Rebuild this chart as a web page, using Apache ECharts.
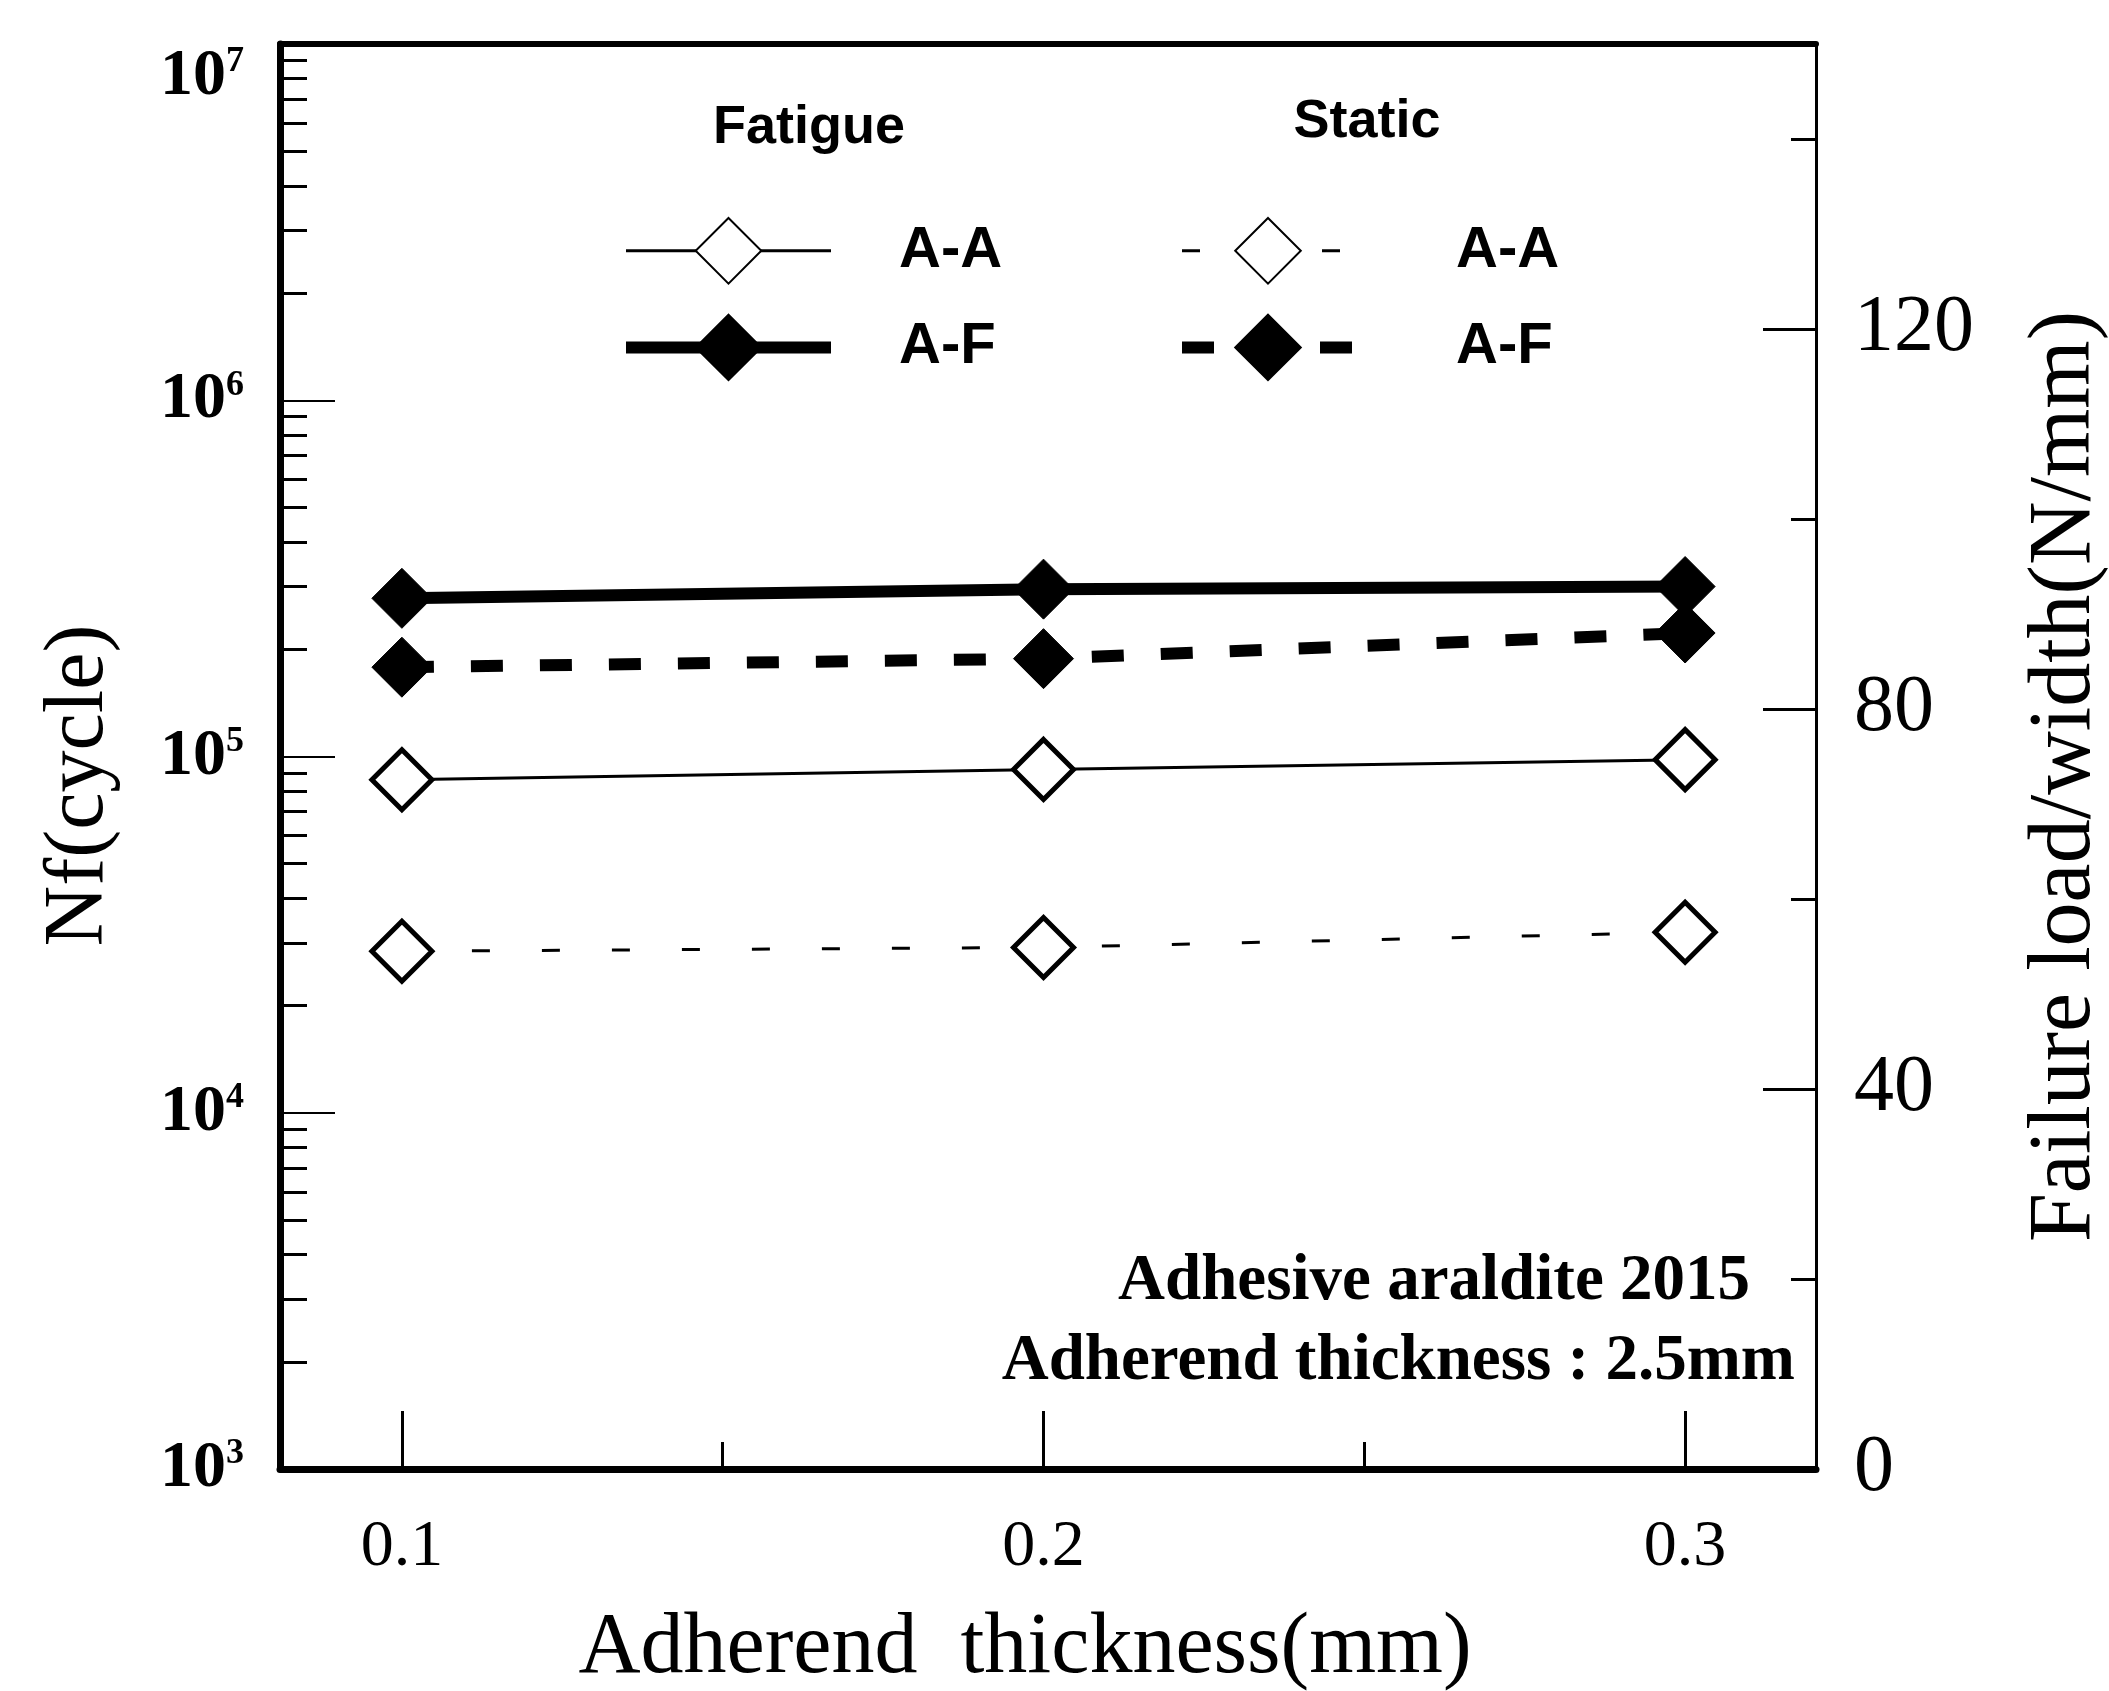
<!DOCTYPE html>
<html><head><meta charset="utf-8">
<script src="https://cdn.jsdelivr.net/npm/echarts@6/dist/echarts.min.js"></script>
<style>html,body{margin:0;padding:0;background:#fff}#c{width:2109px;height:1691px}</style>
</head><body><div id="c"></div><script>
// ---- data ----
const thickness = [0.1, 0.2, 0.3];
const fatigueAA = [8.6e4, 9.2e4, 9.8e4];
const fatigueAF = [2.78e5, 2.95e5, 3.0e5];
const staticAA = [54.5, 54.9, 56.5];
const staticAF = [84.4, 85.3, 88.0];
const xMajorTicks = [0.1, 0.2, 0.3];
const xMinorTicks = [0.15, 0.25];
const rightMajorTicks = [0, 40, 80, 120];
const rightMinorTicks = [20, 60, 100, 140];
const logMinorTicks = [2e3,3e3,4e3,5e3,6e3,7e3,8e3,9e3,
  2e4,3e4,4e4,5e4,6e4,7e4,8e4,9e4,
  2e5,3e5,4e5,5e5,6e5,7e5,8e5,9e5,
  2e6,3e6,4e6,5e6,6e6,7e6,8e6,9e6];

const SERIF = "'Liberation Serif','Times New Roman',serif";
const SANS = "'Liberation Sans',Arial,sans-serif";
const pairs = (ys) => thickness.map((x, i) => [x, ys[i]]);

const chart = echarts.init(document.getElementById('c'), null, {renderer: 'canvas'});
const xMin = 0.081, xMax = 0.3204;

const option = {
  animation: false,
  backgroundColor: '#fff',
  grid: {left: 280, right: 293, top: 44, bottom: 222, containLabel: false, outerBoundsMode: 'none'},
  xAxis: [
    {
      type: 'value', min: xMin, max: xMax, position: 'bottom',
      axisLine: {onZero: false, lineStyle: {color: '#000', width: 7}},
      axisTick: {inside: true, length: 58, customValues: xMajorTicks, lineStyle: {color: '#000', width: 3}},
      axisLabel: {customValues: xMajorTicks, formatter: v => v.toFixed(1), color: '#000', fontFamily: SERIF, fontSize: 66, margin: 46},
      splitLine: {show: false},
      name: 'Adherend  thickness(mm)', nameLocation: 'middle', nameGap: 137,
      nameTextStyle: {color: '#000', fontFamily: SERIF, fontSize: 86, padding: [0, 46, 0, 0]}
    },
    {
      type: 'value', min: xMin, max: xMax, position: 'bottom',
      axisLine: {show: false, onZero: false},
      axisTick: {inside: true, length: 27, customValues: xMinorTicks, lineStyle: {color: '#000', width: 3}},
      axisLabel: {show: false}, splitLine: {show: false}
    },
    {
      type: 'value', min: xMin, max: xMax, position: 'top',
      axisLine: {onZero: false, lineStyle: {color: '#000', width: 6}},
      axisTick: {show: false}, axisLabel: {show: false}, splitLine: {show: false}
    }
  ],
  yAxis: [
    {
      type: 'log', logBase: 10, min: 1e3, max: 1e7, position: 'left',
      axisLine: {onZero: false, lineStyle: {color: '#000', width: 7}},
      axisTick: {inside: true, length: 55, lineStyle: {color: '#000', width: 2}},
      axisLabel: {
        margin: 36, color: '#000',
        verticalAlignMaxLabel: 'top',
        formatter: v => '{b|10}{s|' + Math.round(Math.log10(v)) + '}',
        rich: {
          b: {fontFamily: SERIF, fontWeight: 'bold', fontSize: 66, color: '#000', lineHeight: 66},
          s: {fontFamily: SERIF, fontWeight: 'bold', fontSize: 36, color: '#000', verticalAlign: 'top', lineHeight: 36}
        }
      },
      splitLine: {show: false},
      name: 'Nf(cycle)', nameLocation: 'middle', nameRotate: 90, nameGap: 158,
      nameTextStyle: {color: '#000', fontFamily: SERIF, fontSize: 84, padding: [0, 58, 0, 0]}
    },
    {
      type: 'value', min: 0, max: 150, position: 'right',
      axisLine: {onZero: false, lineStyle: {color: '#000', width: 3}},
      axisTick: {inside: true, length: 53, customValues: rightMajorTicks, lineStyle: {color: '#000', width: 3}},
      axisLabel: {customValues: rightMajorTicks, color: '#000', fontFamily: SERIF, fontSize: 80, margin: 38},
      splitLine: {show: false},
      name: 'Failure load/width(N/mm)', nameLocation: 'middle', nameRotate: 90, nameGap: 206,
      nameTextStyle: {color: '#000', fontFamily: SERIF, fontSize: 88, padding: [0, 40, 0, 0]}
    },
    {
      type: 'log', logBase: 10, min: 1e3, max: 1e7, position: 'left',
      axisLine: {show: false, onZero: false},
      axisTick: {inside: true, length: 27, customValues: logMinorTicks, lineStyle: {color: '#000', width: 3}},
      axisLabel: {show: false}, splitLine: {show: false}
    },
    {
      type: 'value', min: 0, max: 150, position: 'right',
      axisLine: {show: false, onZero: false},
      axisTick: {inside: true, length: 25, customValues: rightMinorTicks, lineStyle: {color: '#000', width: 3}},
      axisLabel: {show: false}, splitLine: {show: false}
    }
  ],
  legend: [
    {
      data: [
        {name: 'Fatigue A-A', lineStyle: {width: 3}},
        {name: 'Fatigue A-F', lineStyle: {width: 12}}
      ],
      orient: 'vertical', left: 620, top: 217, padding: 0,
      itemWidth: 205, itemHeight: 82, itemGap: 29, selectedMode: false,
      formatter: n => '{t|' + n.split(' ')[1] + '}',
      textStyle: {rich: {t: {padding: [0, 0, 0, 63], fontFamily: SANS, fontWeight: 'bold', fontSize: 58, color: '#000'}}}
    },
    {
      data: [
        {name: 'Static A-A', lineStyle: {width: 3}},
        {name: 'Static A-F', lineStyle: {width: 12}}
      ],
      orient: 'vertical', left: 1176, top: 217, padding: 0,
      itemWidth: 172, itemHeight: 82, itemGap: 29, selectedMode: false,
      formatter: n => '{t|' + n.split(' ')[1] + '}',
      textStyle: {rich: {t: {padding: [0, 0, 0, 97], fontFamily: SANS, fontWeight: 'bold', fontSize: 58, color: '#000'}}}
    }
  ],
  graphic: [
    {type: 'text', x: 809, y: 128, style: {text: 'Fatigue', align: 'center', verticalAlign: 'middle', font: 'bold 54px ' + SANS, fill: '#000'}},
    {type: 'text', x: 1367, y: 122, style: {text: 'Static', align: 'center', verticalAlign: 'middle', font: 'bold 54px ' + SANS, fill: '#000'}},
    {type: 'text', x: 1750, y: 1282, style: {text: 'Adhesive araldite 2015', align: 'right', verticalAlign: 'middle', font: 'bold 65px ' + SERIF, fill: '#000'}},
    {type: 'text', x: 1795, y: 1362, style: {text: 'Adherend thickness : 2.5mm', align: 'right', verticalAlign: 'middle', font: 'bold 65px ' + SERIF, fill: '#000'}}
  ],
  series: [
    {
      name: 'Fatigue A-A', type: 'line', xAxisIndex: 0, yAxisIndex: 0, data: pairs(fatigueAA),
      symbol: 'diamond', symbolSize: [60, 60],
      itemStyle: {color: '#fff', borderColor: '#000', borderWidth: 5},
      lineStyle: {color: '#000', width: 3}, z: 3
    },
    {
      name: 'Fatigue A-F', type: 'line', xAxisIndex: 0, yAxisIndex: 0, data: pairs(fatigueAF),
      symbol: 'diamond', symbolSize: [60, 60],
      itemStyle: {color: '#000', borderColor: '#000', borderWidth: 1},
      lineStyle: {color: '#000', width: 12}, z: 3
    },
    {
      name: 'Static A-A', type: 'line', xAxisIndex: 0, yAxisIndex: 1, data: pairs(staticAA),
      symbol: 'diamond', symbolSize: [60, 60],
      itemStyle: {color: '#fff', borderColor: '#000', borderWidth: 5},
      lineStyle: {color: '#000', width: 3, type: [18, 52]}, z: 3
    },
    {
      name: 'Static A-F', type: 'line', xAxisIndex: 0, yAxisIndex: 1, data: pairs(staticAF),
      symbol: 'diamond', symbolSize: [60, 60],
      itemStyle: {color: '#000', borderColor: '#000', borderWidth: 1},
      lineStyle: {color: '#000', width: 12, type: [32, 37]}, z: 3
    }
  ]
};
chart.setOption(option);
</script></body></html>
